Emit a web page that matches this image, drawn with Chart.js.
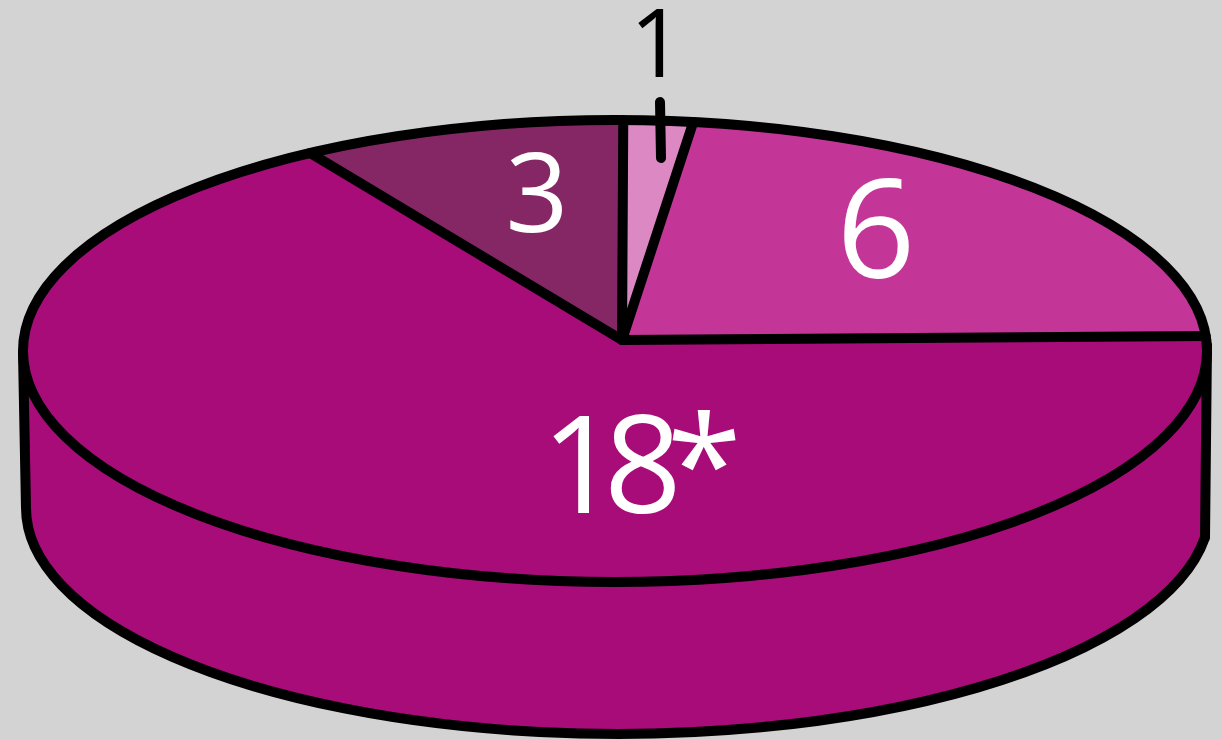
<!DOCTYPE html>
<html><head><meta charset="utf-8">
<style>html,body{margin:0;padding:0;background:#d3d3d3;overflow:hidden}canvas{display:block}</style>
<script src="https://cdn.jsdelivr.net/npm/chart.js@4"></script>
</head><body>
<canvas id="c" width="1222" height="740"></canvas>
<script>
const categories = ["1", "6", "18*", "3"];
// the slices are hand-drawn: degrees of the circle each one occupies
const drawnDegrees = [6.8, 78.7, 242.7, 31.8];
const startDegrees = 0.8;
const sliceColors = ["#dc88c3", "#c43598", "#a80c78", "#862765"];

const top3d = {cx: 615, cy: 351, rx: 592, ry: 231};
const bottom3d = {cx: 618, cy: 508, rx: 592, ry: 226};
const apex = {x: 622, y: 340};
const INK = "#000", LW = 10, WALL = "#a80c78";

const labelStyle = [
  {x: 657, y: 50, size: 95, color: "#000", spacing: 0},
  {x: 876, y: 239, size: 138, color: "#fff", spacing: 0},
  {x: 634, y: 474, size: 136, color: "#fff", spacing: -15},
  {x: 537, y: 201, size: 110, color: "#fff", spacing: 0}
];

const pie3d = {
  id: "pie3d",
  beforeDatasetsDraw(chart) {
    const ctx = chart.ctx;
    ctx.save();
    ctx.lineWidth = LW; ctx.strokeStyle = INK; ctx.lineJoin = "round"; ctx.lineCap = "round";
    ctx.fillStyle = WALL;
    const startA = Math.asin(30 / bottom3d.ry);
    ctx.beginPath();
    ctx.moveTo(1207, 345);
    ctx.lineTo(1205, 538);
    ctx.ellipse(bottom3d.cx, bottom3d.cy, bottom3d.rx, bottom3d.ry, 0, startA, Math.PI);
    ctx.lineTo(23, 353);
    ctx.fill();
    ctx.stroke();
    ctx.restore();
  },
  beforeDatasetDraw(chart, args) {
    const ctx = chart.ctx, els = chart.getDatasetMeta(args.index).data;
    ctx.save();
    els.forEach(el => {
      ctx.beginPath();
      ctx.moveTo(apex.x, apex.y);
      ctx.ellipse(top3d.cx, top3d.cy, top3d.rx, top3d.ry, 0, el.startAngle, el.endAngle);
      ctx.closePath();
      ctx.fillStyle = el.options.backgroundColor;
      ctx.fill();
    });
    ctx.lineWidth = LW; ctx.strokeStyle = INK; ctx.lineCap = "round";
    ctx.beginPath();
    ctx.ellipse(top3d.cx, top3d.cy, top3d.rx, top3d.ry, 0, 0, Math.PI * 2);
    ctx.stroke();
    els.forEach(el => {
      ctx.beginPath();
      ctx.moveTo(apex.x, apex.y);
      ctx.lineTo(top3d.cx + top3d.rx * Math.cos(el.startAngle), top3d.cy + top3d.ry * Math.sin(el.startAngle));
      ctx.stroke();
    });
    // leader from the outside label into its small slice
    ctx.beginPath(); ctx.moveTo(660, 102); ctx.lineTo(661, 158); ctx.stroke();
    ctx.restore();
    return false;
  },
  afterDatasetsDraw(chart) {
    const ctx = chart.ctx;
    ctx.save();
    ctx.textAlign = "center"; ctx.textBaseline = "middle";
    categories.forEach((t, i) => {
      const s = labelStyle[i];
      ctx.font = `400 ${s.size}px "Open Sans", sans-serif`;
      ctx.letterSpacing = s.spacing + "px";
      ctx.fillStyle = s.color;
      ctx.fillText(t, s.x, s.y);
    });
    ctx.restore();
  }
};

new Chart(document.getElementById("c"), {
  type: "pie",
  data: {labels: categories, datasets: [{data: drawnDegrees, backgroundColor: sliceColors, borderWidth: 0}]},
  options: {
    responsive: false, animation: false, rotation: startDegrees,
    plugins: {legend: {display: false}, tooltip: {enabled: false}}
  },
  plugins: [pie3d]
});
</script>
</body></html>
